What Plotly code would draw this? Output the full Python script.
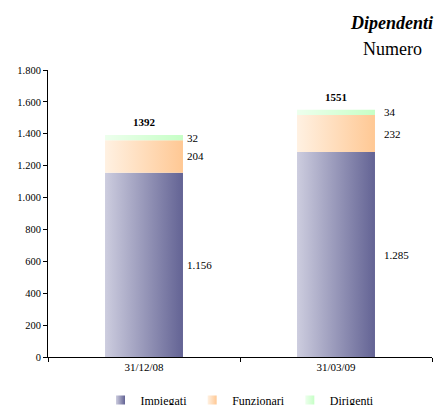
import plotly.graph_objects as go

# Headcount by category at two reporting dates
categories = ["31/12/08", "31/03/09"]
series_names = ["Impiegati", "Funzionari", "Dirigenti"]
impiegati = [1156, 1285]
funzionari = [204, 232]
dirigenti = [32, 34]
totals = [1392, 1551]
y_ticks = [0, 200, 400, 600, 800, 1000, 1200, 1400, 1600, 1800]

series_values = [impiegati, funzionari, dirigenti]
# horizontal gradient (light on the left, dark on the right) for each series
gradients = [
    ("#CDCDDF", "#636394"),
    ("#FFF1E2", "#FFC894"),
    ("#EDFFED", "#C6FFC6"),
]

FONT = "Liberation Serif, Times New Roman, serif"
HALF_W = 0.203  # half bar width in category units

# plot area in pixels (used to place the title block in paper units)
W, H = 437, 405
M_L, M_R, M_T, M_B = 48, 5, 70, 48
PW, PH = W - M_L - M_R, H - M_T - M_B


def px_to_paper(px, py):
    return (px - M_L) / PW, (H - M_B - py) / PH


fig = go.Figure()

# stacked segments drawn as filled rectangles so they can carry a gradient
bases = [0] * len(categories)
for name, vals, (c0, c1) in zip(series_names, series_values, gradients):
    for i, v in enumerate(vals):
        x0, x1 = i - HALF_W, i + HALF_W
        y0, y1 = bases[i], bases[i] + v
        fig.add_trace(go.Scatter(
            x=[x0, x1, x1, x0, x0],
            y=[y0, y0, y1, y1, y0],
            mode="lines",
            line=dict(width=0),
            fill="toself",
            fillgradient=dict(type="horizontal", start=x0, stop=x1,
                              colorscale=[[0, c0], [1, c1]]),
            legendgroup=name,
            showlegend=False,
            hoverinfo="skip",
        ))
        # value label to the right of the segment
        fig.add_annotation(
            x=x1, y=y0 + v / 2, xref="x", yref="y",
            text=f"{v:,}".replace(",", "."),
            showarrow=False, xanchor="left", yanchor="middle", xshift=2 + 5 * i,
            font=dict(family=FONT, size=11, color="#000000"),
        )
        bases[i] = y1

    # legend entry with a small gradient square
    fig.add_trace(go.Scatter(
        x=[None], y=[None], mode="markers", name=name, legendgroup=name,
        marker=dict(symbol="square", size=9, color=c0,
                    gradient=dict(type="horizontal", color=c1)),
    ))

# bold totals above each stack
for i, t in enumerate(totals):
    fig.add_annotation(
        x=i, y=t, xref="x", yref="y", text=f"<b>{t}</b>",
        showarrow=False, yanchor="bottom", yshift=5,
        font=dict(family=FONT, size=11, color="#000000"),
    )

# title block, top right
tx, ty = px_to_paper(391, 23)
fig.add_annotation(
    x=tx, y=ty, xref="paper", yref="paper",
    xanchor="center", yanchor="middle", showarrow=False,
    text="<b><i>Dipendenti</i></b>",
    font=dict(family=FONT, size=18, color="#000000"),
)
nx, ny = px_to_paper(392, 49)
fig.add_annotation(
    x=nx, y=ny, xref="paper", yref="paper",
    xanchor="center", yanchor="middle", showarrow=False,
    text="Numero",
    font=dict(family=FONT, size=18, color="#000000"),
)

fig.update_layout(
    width=W, height=H,
    margin=dict(l=M_L, r=M_R, t=M_T, b=M_B, autoexpand=False),
    paper_bgcolor="#FFFFFF", plot_bgcolor="#FFFFFF",
    separators=",.",
    font=dict(family=FONT, size=11, color="#000000"),
    showlegend=True,
    legend=dict(
        orientation="h", x=0.5, xanchor="center",
        y=-0.15, yanchor="middle",
        font=dict(family=FONT, size=12, color="#000000"),
        itemwidth=30, bgcolor="rgba(0,0,0,0)",
    ),
    xaxis=dict(
        range=[-0.5, 1.5], tickvals=list(range(len(categories))), ticktext=categories,
        ticks="", showgrid=False, zeroline=False,
        showline=True, linecolor="#000000", linewidth=1,
        minor=dict(tickvals=[-0.5, 0.5, 1.5], ticks="outside", ticklen=4,
                   tickcolor="#000000", showgrid=False),
        tickfont=dict(family=FONT, size=11),
        fixedrange=True,
    ),
    yaxis=dict(
        range=[0, 1800], tickvals=y_ticks, tickformat=",d",
        ticks="outside", ticklen=4, tickcolor="#000000",
        showgrid=False, zeroline=False,
        showline=True, linecolor="#000000", linewidth=1,
        tickfont=dict(family=FONT, size=10.5),
        fixedrange=True,
    ),
)

fig.write_html("out.html")
